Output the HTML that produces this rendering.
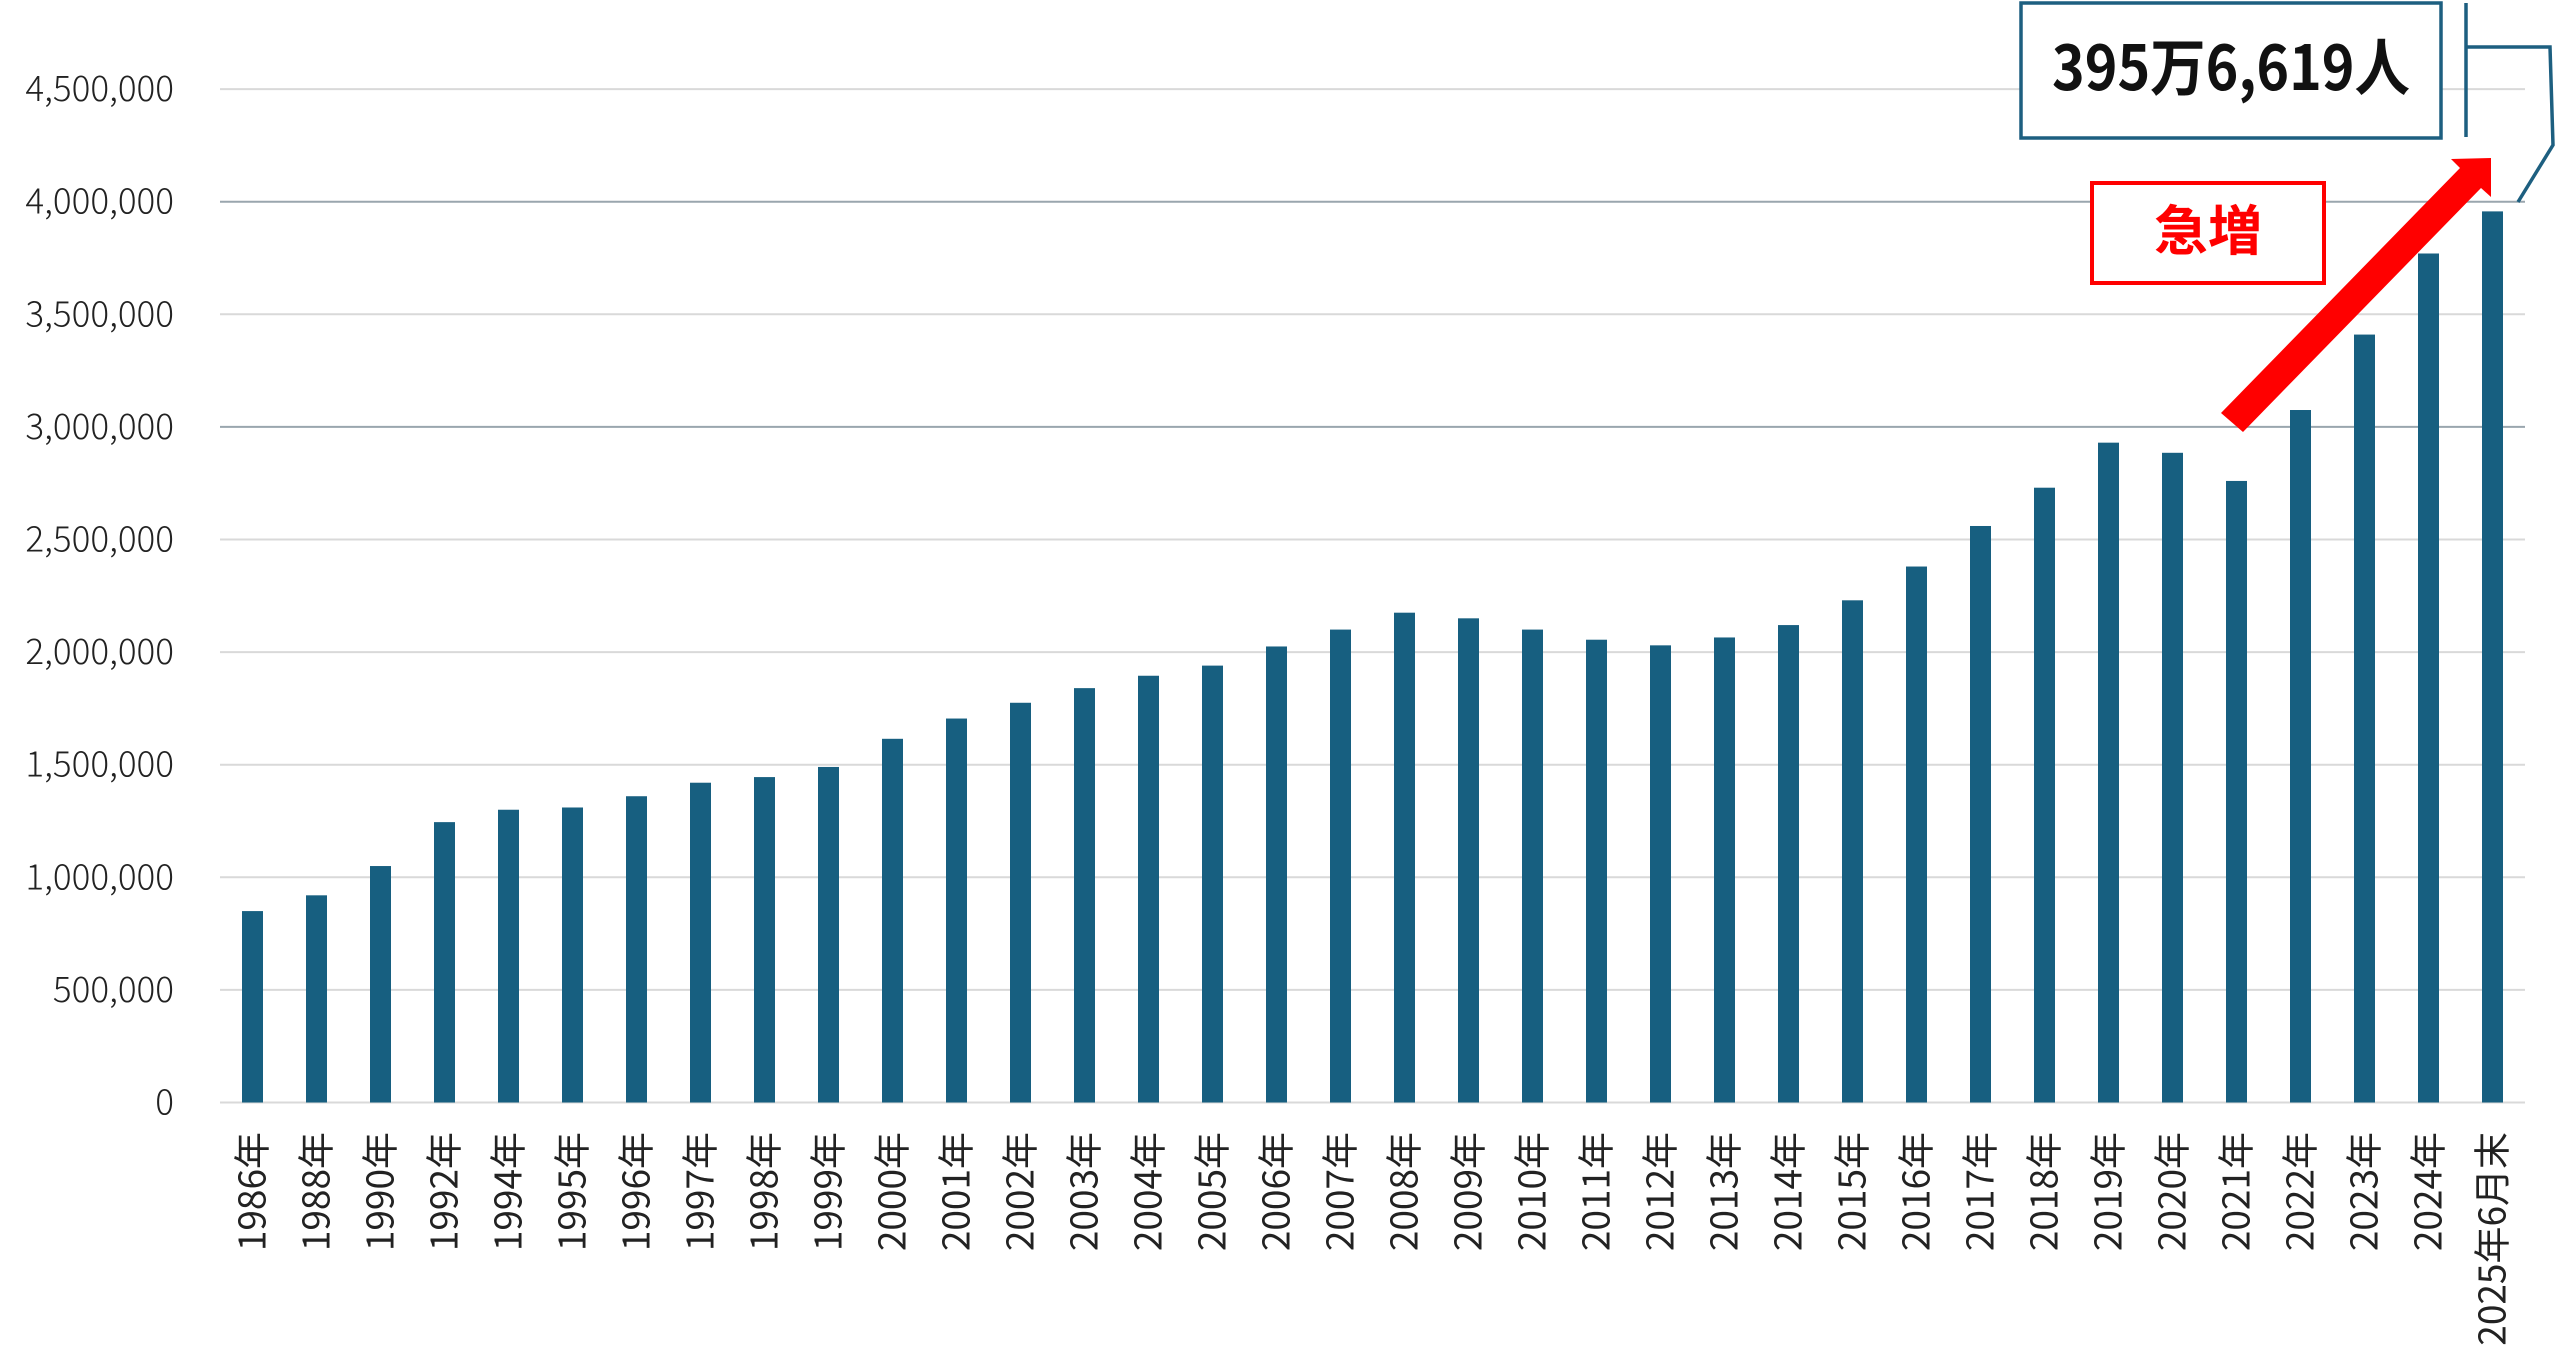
<!DOCTYPE html>
<html><head><meta charset="utf-8"><style>
html,body{margin:0;padding:0;background:#fff;}
svg{display:block;}
</style></head><body>
<svg width="2560" height="1372" viewBox="0 0 2560 1372" xmlns="http://www.w3.org/2000/svg">
<g id="grid"></g>
<g id="bars"></g>
<g id="ylab" font-family="'Noto Sans CJK JP','Liberation Sans',sans-serif" font-size="35" font-weight="300" fill="#222" text-anchor="end"></g>
<g id="xlab" font-family="'Noto Sans CJK JP','Liberation Sans',sans-serif" font-size="37" fill="#222" text-anchor="end"></g>

<rect x="2021" y="3" width="420" height="135" fill="#fff" stroke="#1d5f80" stroke-width="3.5"/>
<text x="2231" y="90" font-family="'Noto Sans CJK JP','Liberation Sans',sans-serif" font-weight="bold" font-size="62" fill="#111" text-anchor="middle" textLength="358" lengthAdjust="spacingAndGlyphs">395万6,619人</text>
<polyline points="2466,3 2466,137" fill="none" stroke="#1d5f80" stroke-width="3.5"/>
<polyline points="2466,47 2550,47 2553,145 2518,202" fill="none" stroke="#1d5f80" stroke-width="3.5"/>

<rect x="2092" y="183" width="232" height="100" fill="#fff" stroke="#ff0000" stroke-width="4"/>
<text x="2208" y="250" font-family="'Noto Sans CJK JP',sans-serif" font-weight="bold" font-size="54" fill="#ff0000" text-anchor="middle">急増</text>

<polygon points="2221,413 2460,168 2451,159 2491,158 2491,197 2481,188 2243,432" fill="#ff0000"/>
</svg>
<script>
var ns="http://www.w3.org/2000/svg";
function el(t,a,p,txt){var e=document.createElementNS(ns,t);for(var k in a)e.setAttribute(k,a[k]);if(txt)e.textContent=txt;document.getElementById(p).appendChild(e);return e;}
var y0=1102.5, step=112.6;
var labs=["0","500,000","1,000,000","1,500,000","2,000,000","2,500,000","3,000,000","3,500,000","4,000,000","4,500,000"];
for(var i=0;i<10;i++){var y=y0-i*step;
 var c=(i==6||i==8)?"#9aa6ae":"#d9d9d9";
 el("line",{x1:220,x2:2525,y1:y,y2:y,stroke:c,"stroke-width":2},"grid");
 el("text",{x:174,y:y+12},"ylab",labs[i]);}
var years=["1986","1988","1990","1992","1994","1995","1996","1997","1998","1999","2000","2001","2002","2003","2004","2005","2006","2007","2008","2009","2010","2011","2012","2013","2014","2015","2016","2017","2018","2019","2020","2021","2022","2023","2024"];
var vals=[850,920,1050,1245,1300,1310,1360,1420,1445,1490,1615,1705,1775,1840,1895,1940,2025,2100,2175,2150,2100,2055,2030,2065,2120,2230,2380,2560,2730,2930,2885,2760,3075,3410,3770,3957];
for(var i=0;i<36;i++){var cx=252.5+64*i;var h=vals[i]/500*step;
 el("rect",{x:cx-10.5,y:y0-h,width:21,height:h,fill:"#175f80"},"bars");
 var t=(i<35)?years[i]+"年":"2025年6月末";
 el("text",{transform:"translate("+(cx+13)+",1132) rotate(-90)"},"xlab",t);}
</script>
</body></html>
